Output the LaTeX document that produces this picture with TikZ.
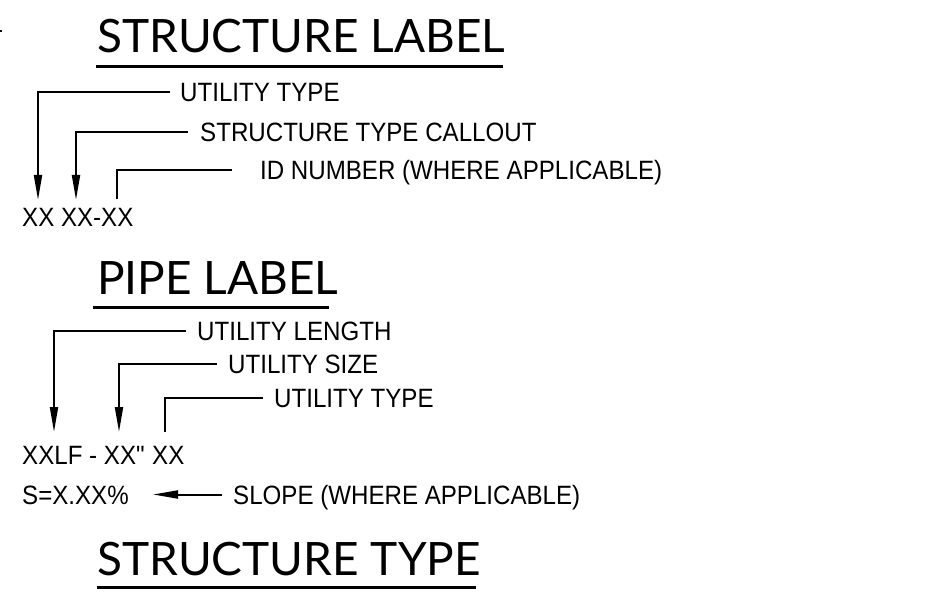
\documentclass[tikz,border=0pt]{standalone}
\usepackage{fontspec}
\setmainfont{Liberation Sans}
\newfontfamily\bodyfont[FakeStretch=0.91]{Liberation Sans}
\newfontfamily\headfont{Lato}
\usetikzlibrary{arrows.meta}
\tikzset{
  x=1pt, y=-1pt,
  body/.style={inner sep=0pt, anchor=base west, font=\bodyfont\fontsize{26.5}{26.5}\selectfont, text height=19pt, text depth=0pt},
  head/.style={inner sep=0pt, anchor=base west, font=\headfont\fontsize{46}{46}\selectfont},
  leader/.style={line width=2pt},
  arr/.style={line width=2pt, -{Triangle[length=25pt,width=8pt]}},
  uline/.style={line width=3pt}
}
\begin{document}
\begin{tikzpicture}
\useasboundingbox (0,0) rectangle (947,593);
\fill (0,30) rectangle (2,32);
% Structure label
\node[head] (h1) at (97,53) {STRUCTURE LABEL};
\draw[uline] (96,67) -- (503,67);
\node[body] (s1) at (180,102) {UTILITY TYPE};
\node[body] (s2) at (200,141.5) {STRUCTURE TYPE CALLOUT};
\node[body] (s3) at (260,179.5) {ID NUMBER (WHERE APPLICABLE)};
\node[body] (sc) at (22,227) {XX XX-XX};
\coordinate (st1) at (38,200);
\coordinate (st2) at (76,200);
\coordinate (st3) at (117,199);
\draw[arr] ([xshift=-10pt]s1.west) -| (st1);
\draw[arr] ([xshift=-12pt]s2.west) -| (st2);
\draw[leader] ([xshift=-28pt]s3.west) -| (st3);
% Pipe label
\node[head] (h2) at (97,295) {PIPE LABEL};
\draw[uline] (93,308) -- (329,308);
\node[body] (p1) at (197,340.5) {UTILITY LENGTH};
\node[body] (p2) at (228,373.5) {UTILITY SIZE};
\node[body] (p3) at (274,407.5) {UTILITY TYPE};
\node[body] (pc) at (22,464) {XXLF - XX\textquotedbl{} XX};
\coordinate (pt1) at (54,432);
\coordinate (pt2) at (119,432);
\coordinate (pt3) at (165,432);
\draw[arr] ([xshift=-11pt]p1.west) -| (pt1);
\draw[arr] ([xshift=-11pt]p2.west) -| (pt2);
\draw[leader] ([xshift=-11pt]p3.west) -| (pt3);
\node[body] (sl) at (22,504) {S=X.XX\%};
\node[body] (slt) at (233,504) {SLOPE (WHERE APPLICABLE)};
\coordinate (slp) at (153,0);
\draw[arr] ([xshift=-11pt]slt.west) -- (slp |- slt.west);
% Structure type
\node[head] (h3) at (97,575) {STRUCTURE TYPE};
\draw[uline] (97,587) -- (476,587);
\end{tikzpicture}
\end{document}
